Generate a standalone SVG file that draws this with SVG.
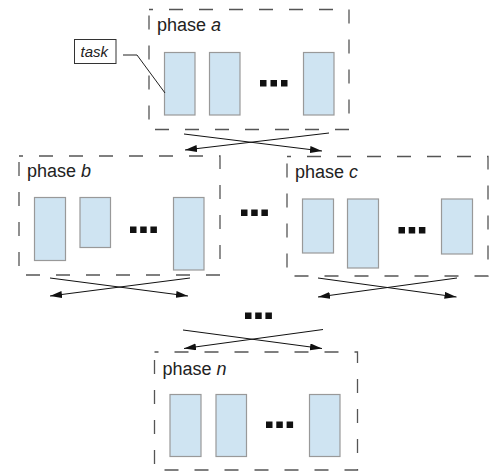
<svg xmlns="http://www.w3.org/2000/svg" width="494" height="473" viewBox="0 0 494 473">
<defs>
<style>
.phase{fill:none;stroke:#555;stroke-width:1.3;stroke-dasharray:14 16;stroke-dashoffset:10}
.task{fill:#cfe4f2;stroke:#999;stroke-width:1.2}
.dot{fill:#111}
.lbl{font-family:"Liberation Sans",Arial,sans-serif;font-size:18px;fill:#222}
.it{font-style:italic}
.arr{fill:none;stroke:#111;stroke-width:1}
</style>
<marker id="ah" markerUnits="userSpaceOnUse" markerWidth="13" markerHeight="8" refX="12" refY="3.5" orient="auto">
<path d="M0,0 L12,3.5 L0,7 Z" fill="#111"/>
</marker>
</defs>
<rect width="494" height="473" fill="#fff"/>

<g id="phase-a">
<rect class="phase" x="149" y="9.5" width="200" height="120"/>
<text class="lbl" x="157" y="31">phase <tspan class="it">a</tspan></text>
<rect class="task" x="164.5" y="52.5" width="30.5" height="62.5"/>
<rect class="task" x="209.5" y="52.5" width="30.5" height="62.5"/>
<rect class="task" x="303.5" y="52.5" width="30.5" height="62.5"/>
<rect class="dot" x="260" y="80" width="6.5" height="6.5"/>
<rect class="dot" x="270.5" y="80" width="6.5" height="6.5"/>
<rect class="dot" x="281" y="80" width="6.5" height="6.5"/>
</g>

<g id="task-label">
<rect x="74.5" y="39.5" width="41.5" height="24" fill="#fff" stroke="#333" stroke-width="1"/>
<text x="80.5" y="57" font-family="'Liberation Sans',Arial,sans-serif" font-size="15" font-style="italic" fill="#222">task</text>
<polyline points="123,55 137,55 165,93" fill="none" stroke="#222" stroke-width="1"/>
</g>

<g id="phase-b">
<rect class="phase" x="19" y="156" width="201" height="119"/>
<text class="lbl" x="27" y="177">phase <tspan class="it">b</tspan></text>
<rect class="task" x="34.5" y="197.5" width="31" height="63"/>
<rect class="task" x="80" y="197.5" width="30.5" height="50"/>
<rect class="task" x="173.5" y="197.5" width="30.5" height="72.5"/>
<rect class="dot" x="130" y="226.5" width="6.5" height="6.5"/>
<rect class="dot" x="140.2" y="226.5" width="6.5" height="6.5"/>
<rect class="dot" x="150.4" y="226.5" width="6.5" height="6.5"/>
</g>

<g id="phase-c">
<rect class="phase" x="287" y="156.5" width="201" height="119.5"/>
<text class="lbl" x="295" y="177.5">phase <tspan class="it">c</tspan></text>
<rect class="task" x="302.5" y="199" width="31" height="54"/>
<rect class="task" x="347.5" y="199" width="31" height="69"/>
<rect class="task" x="441.5" y="199" width="31" height="55"/>
<rect class="dot" x="398.5" y="227" width="6.5" height="6.5"/>
<rect class="dot" x="408.7" y="227" width="6.5" height="6.5"/>
<rect class="dot" x="418.9" y="227" width="6.5" height="6.5"/>
</g>

<g id="phase-n">
<rect class="phase" x="154.5" y="352" width="203" height="118"/>
<text class="lbl" x="162.5" y="375">phase <tspan class="it">n</tspan></text>
<rect class="task" x="170" y="394.5" width="31" height="62"/>
<rect class="task" x="216" y="394.5" width="30.5" height="62"/>
<rect class="task" x="309.5" y="394.5" width="30.5" height="62"/>
<rect class="dot" x="266" y="421.5" width="6.5" height="6.5"/>
<rect class="dot" x="276.3" y="421.5" width="6.5" height="6.5"/>
<rect class="dot" x="286.6" y="421.5" width="6.5" height="6.5"/>
</g>

<g id="ellipsis-mid">
<rect class="dot" x="241" y="209.5" width="6.5" height="6.5"/>
<rect class="dot" x="251.2" y="209.5" width="6.5" height="6.5"/>
<rect class="dot" x="261.4" y="209.5" width="6.5" height="6.5"/>
</g>
<g id="ellipsis-low">
<rect class="dot" x="245" y="312.5" width="6.5" height="6.5"/>
<rect class="dot" x="255.2" y="312.5" width="6.5" height="6.5"/>
<rect class="dot" x="265.4" y="312.5" width="6.5" height="6.5"/>
</g>

<g id="connectors">
<line class="arr" x1="184" y1="134" x2="322" y2="151" marker-end="url(#ah)"/>
<line class="arr" x1="329" y1="133" x2="185" y2="150" marker-end="url(#ah)"/>
<line class="arr" x1="50" y1="278" x2="188" y2="296" marker-end="url(#ah)"/>
<line class="arr" x1="190" y1="278" x2="50" y2="296" marker-end="url(#ah)"/>
<line class="arr" x1="318" y1="278" x2="456.5" y2="297" marker-end="url(#ah)"/>
<line class="arr" x1="457" y1="278" x2="318" y2="297" marker-end="url(#ah)"/>
<line class="arr" x1="183" y1="330" x2="322" y2="348.5" marker-end="url(#ah)"/>
<line class="arr" x1="323" y1="329.5" x2="184" y2="348.5" marker-end="url(#ah)"/>
</g>
</svg>
